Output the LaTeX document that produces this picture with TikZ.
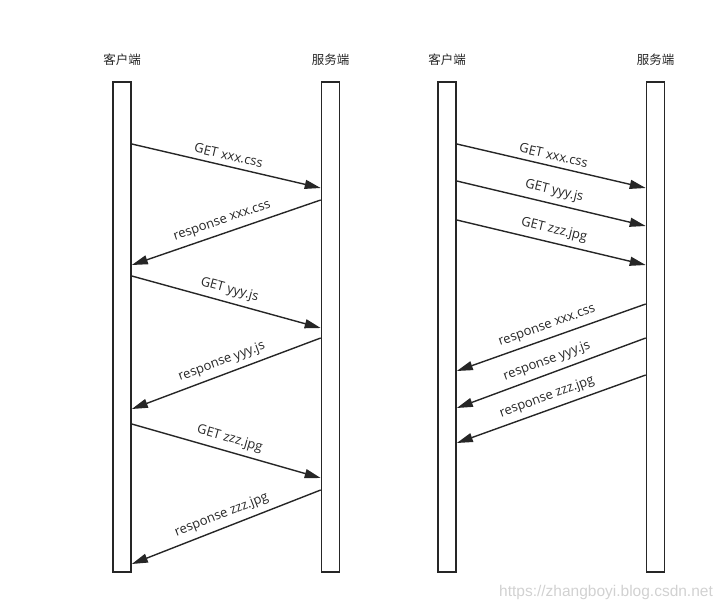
\documentclass[tikz,border=0pt]{standalone}
\usepackage{fontspec}
\setmainfont{Open Sans}
\newfontfamily\cjkfont{Noto Sans CJK SC}
\newfontfamily\markfont{Liberation Sans}
\usetikzlibrary{arrows.meta}
\begin{document}
\begin{tikzpicture}[x=1pt,y=-1pt,
   lifeline/.style={draw=black!85,line width=1.6pt,fill=white,minimum width=18pt,minimum height=490pt,inner sep=0pt},
   msg/.style={black!85,line width=1.4pt,-{Triangle[length=16pt,width=9pt]}},
   msgtext/.style={midway,sloped,above=4pt,inner sep=1.5pt,font=\fontsize{13}{15}\selectfont,text=black!85},
   party/.style={font=\cjkfont\fontsize{12.5}{14}\selectfont,text=black!85}]
   \useasboundingbox (0,0) rectangle (725,609);
   % one request after the other
   \node [lifeline] (cl) at (122,327) {};
   \node [lifeline] (sl) at (330.5,327) {};
   \node [party] (cltitle) at (122,60) {客户端};
   \node [party] (sltitle) at (330.5,60) {服务端};
   \draw [msg] (cl.east |- 0,144) -- (sl.west |- 0,188) node [msgtext] {GET xxx.css};
   \draw [msg] (sl.west |- 0,200) -- (cl.east |- 0,265) node [msgtext] {response xxx.css};
   \draw [msg] (cl.east |- 0,276) -- (sl.west |- 0,328) node [msgtext] {GET yyy.js};
   \draw [msg] (sl.west |- 0,338) -- (cl.east |- 0,409) node [msgtext] {response yyy.js};
   \draw [msg] (cl.east |- 0,424) -- (sl.west |- 0,478) node [msgtext] {GET zzz.jpg};
   \draw [msg] (sl.west |- 0,490) -- (cl.east |- 0,564) node [msgtext] {response zzz.jpg};
   % all requests at once
   \node [lifeline] (cr) at (447,327) {};
   \node [lifeline] (sr) at (655.5,327) {};
   \node [party] (crtitle) at (447,60) {客户端};
   \node [party] (srtitle) at (655.5,60) {服务端};
   \draw [msg] (cr.east |- 0,144) -- (sr.west |- 0,188) node [msgtext] {GET xxx.css};
   \draw [msg] (cr.east |- 0,181) -- (sr.west |- 0,226) node [msgtext] {GET yyy.js};
   \draw [msg] (cr.east |- 0,220) -- (sr.west |- 0,265) node [msgtext] {GET zzz.jpg};
   \draw [msg] (sr.west |- 0,304) -- (cr.east |- 0,371) node [msgtext] {response xxx.css};
   \draw [msg] (sr.west |- 0,338) -- (cr.east |- 0,408) node [msgtext] {response yyy.js};
   \draw [msg] (sr.west |- 0,375) -- (cr.east |- 0,443) node [msgtext] {response zzz.jpg};
   \node [text=black!18,font=\markfont\fontsize{15.5}{17}\selectfont] (mark) at (606,592) {https://zhangboyi.blog.csdn.net};
\end{tikzpicture}
\end{document}
